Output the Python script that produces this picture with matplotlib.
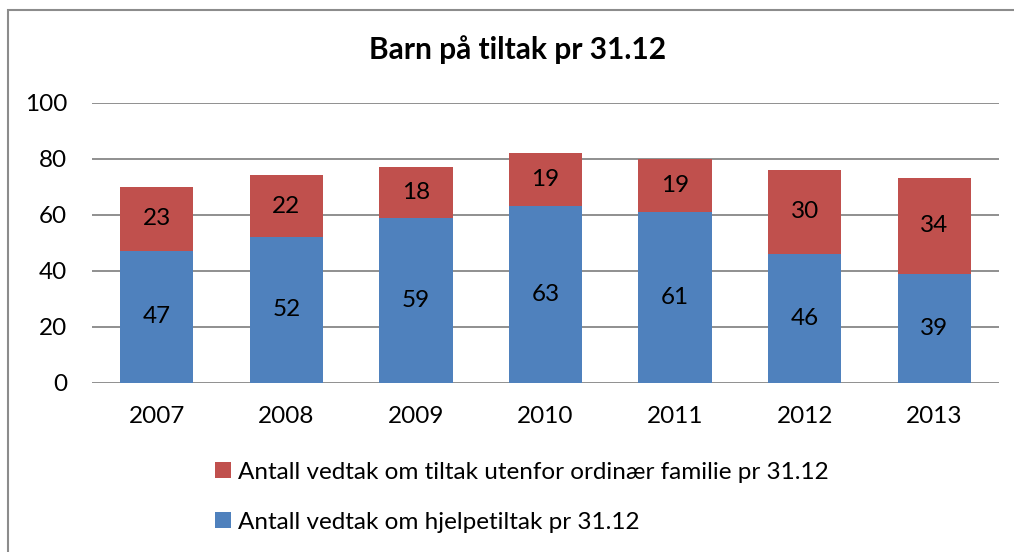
import numpy as np
import matplotlib.pyplot as plt
from matplotlib.patches import Rectangle

plt.rcParams['font.family'] = ['Lato', 'DejaVu Sans']

years = ['2007', '2008', '2009', '2010', '2011', '2012', '2013']
hjelpetiltak = [47, 52, 59, 63, 61, 46, 39]
utenfor_familie = [23, 22, 18, 19, 19, 30, 34]

blue = '#4F81BD'
red = '#C0504D'

W, H = 1014, 552
fig = plt.figure(figsize=(W / 100, H / 100), dpi=100)
ax = fig.add_axes([92 / W, (H - 382.7) / H, 907 / W, 280 / H])

x = np.arange(len(years))
b1 = ax.bar(x, hjelpetiltak, width=0.565, color=blue,
            label='Antall vedtak om hjelpetiltak pr 31.12', zorder=3)
b2 = ax.bar(x, utenfor_familie, width=0.565, bottom=hjelpetiltak, color=red,
            label='Antall vedtak om tiltak utenfor ordinær familie pr 31.12', zorder=3)
ax.bar_label(b1, label_type='center', fontsize=17.5)
ax.bar_label(b2, label_type='center', fontsize=17.5)

ax.set_xlim(-0.5, len(years) - 0.5)
ax.set_ylim(0, 100)
ax.set_yticks(range(0, 101, 20))
ax.set_xticks(x)
ax.set_xticklabels(years)
ax.tick_params(axis='both', length=0, labelsize=17.5)
ax.tick_params(axis='x', pad=17)
ax.tick_params(axis='y', pad=18)
ax.grid(axis='y', color='#878787', linewidth=1.3, zorder=0)
for s in ax.spines.values():
    s.set_visible(False)

fig.text(518 / W, (H - 50) / H, 'Barn på tiltak pr 31.12', ha='center', va='center',
         fontsize=21.5, fontweight='bold')

# outer chart border
fig.patches.append(Rectangle((8 / W, -0.05), 1.1, (H - 10) / H + 0.05,
                             transform=fig.transFigure, fill=False,
                             edgecolor='#8C8C8C', linewidth=1.5))

fig.legend(handles=[b2, b1], loc='upper left', bbox_to_anchor=(205 / W, (H - 452) / H),
           frameon=False, fontsize=17.5, handlelength=0.65, handleheight=0.65,
           handletextpad=0.3, labelspacing=1.2, borderaxespad=0)

fig.savefig('out.png', dpi=100)
